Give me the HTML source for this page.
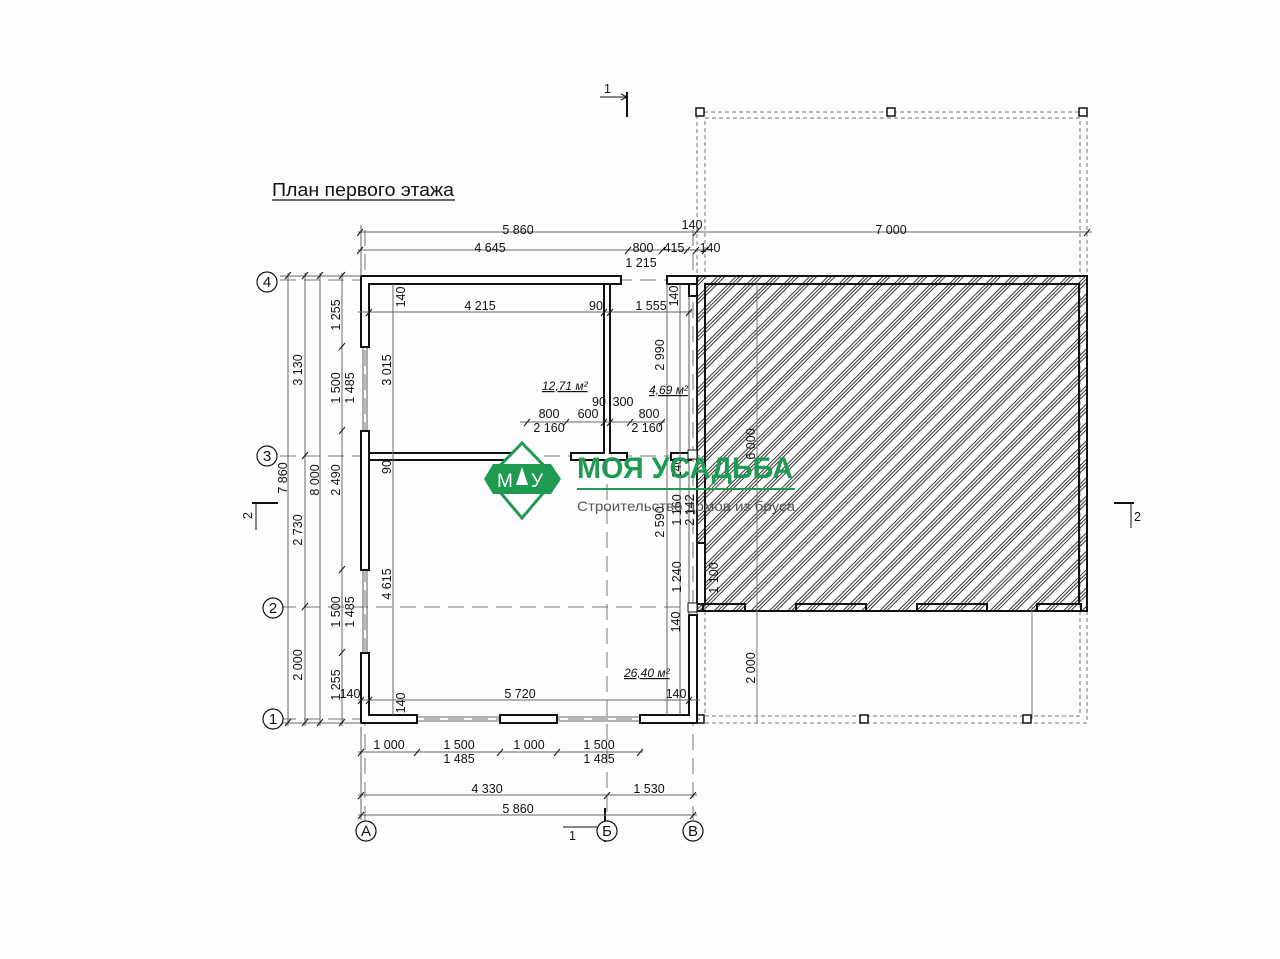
<!DOCTYPE html>
<html><head><meta charset="utf-8"><style>
html,body{margin:0;padding:0;background:#fdfdfd;}
svg{display:block;font-family:"Liberation Sans",sans-serif;}
.d{stroke:#666;stroke-width:1;fill:none}
.t{font-size:12.5px;fill:#111}
.w{fill:#fff;stroke:#111;stroke-width:2}
.ax{stroke:#777;stroke-width:1;stroke-dasharray:16 8;fill:none}
</style></head><body>
<svg width="1280" height="959" viewBox="0 0 1280 959" xmlns="http://www.w3.org/2000/svg">
<defs>
<pattern id="h" width="13" height="13" patternUnits="userSpaceOnUse" patternTransform="rotate(45)">
<line x1="1" y1="0" x2="1" y2="13" stroke="#222" stroke-width="0.9"/>
<line x1="3.5" y1="0" x2="3.5" y2="13" stroke="#222" stroke-width="0.9"/>
<line x1="6" y1="0" x2="6" y2="13" stroke="#222" stroke-width="0.9"/>
</pattern>
</defs>
<rect width="1280" height="959" fill="#fdfdfd"/>

<text x="272" y="196" font-size="18" fill="#111" textLength="182" lengthAdjust="spacingAndGlyphs">План первого этажа</text>
<line x1="272" y1="200" x2="455" y2="200" stroke="#111" stroke-width="1.2"/>

<line x1="627" y1="92" x2="627" y2="117" stroke="#111" stroke-width="2"/>
<line x1="600" y1="97" x2="627" y2="97" stroke="#111"/><path d="M621,94 L627,97 L621,100" fill="none" stroke="#111"/>
<text x="604" y="93" class="t">1</text>
<line x1="605" y1="808" x2="605" y2="842" stroke="#111" stroke-width="2"/>
<line x1="563" y1="827" x2="605" y2="827" stroke="#111"/><path d="M599,824 L605,827 L599,830" fill="none" stroke="#111"/>
<text x="569" y="840" class="t">1</text>
<line x1="252" y1="503" x2="278" y2="503" stroke="#111" stroke-width="2"/>
<line x1="256" y1="530" x2="256" y2="503" stroke="#111"/>
<text x="244" y="519" class="t" transform="rotate(-90 248 515)">2</text>
<line x1="1114" y1="503" x2="1134" y2="503" stroke="#111" stroke-width="2"/>
<line x1="1131" y1="503" x2="1131" y2="528" stroke="#111"/>
<text x="1134" y="521" class="t">2</text>

<rect x="697" y="112" width="390" height="611" fill="none" stroke="#777" stroke-dasharray="4 3"/>
<rect x="705" y="118" width="375" height="598" fill="none" stroke="#777" stroke-dasharray="4 3"/>

<rect x="697" y="276" width="390" height="335" fill="url(#h)" stroke="#111" stroke-width="2"/>
<path d="M705,604 V284 H1079 V604" fill="none" stroke="#111" stroke-width="2"/>
<g fill="none" stroke="#111" stroke-width="2">
<rect x="703" y="604" width="42" height="7"/><rect x="796" y="604" width="70" height="7"/><rect x="917" y="604" width="70" height="7"/><rect x="1037" y="604" width="44" height="7"/>
<rect x="697" y="543" width="8" height="61" fill="#fff"/>
</g>
<line x1="757" y1="284" x2="757" y2="723" stroke="#777"/>
<line x1="1032" y1="604" x2="1032" y2="719" stroke="#777"/>
<g fill="#fff" stroke="#111" stroke-width="1.5">
<rect x="696" y="108" width="8" height="8"/><rect x="887" y="108" width="8" height="8"/><rect x="1079" y="108" width="8" height="8"/>
<rect x="696" y="715" width="8" height="8"/><rect x="860" y="715" width="8" height="8"/><rect x="1023" y="715" width="8" height="8"/>
</g>

<line class="ax" x1="280" y1="280" x2="700" y2="280"/>
<line class="ax" x1="280" y1="456" x2="700" y2="456"/>
<line class="ax" x1="280" y1="607" x2="700" y2="607"/>
<line class="ax" x1="280" y1="719" x2="700" y2="719"/>
<line class="ax" x1="365" y1="230" x2="365" y2="820"/>
<line class="ax" x1="607" y1="460" x2="607" y2="820"/>
<line class="ax" x1="693" y1="230" x2="693" y2="820"/>

<path class="w" d="M361,276 H621 V284 H369 V347 H361 Z"/>
<rect class="w" x="667" y="276" width="30" height="8"/>
<rect class="w" x="361" y="431" width="8" height="139"/>
<path class="w" d="M361,653 H369 V715 H417 V723 H361 Z"/>
<rect class="w" x="500" y="715" width="57" height="8"/>
<path class="w" d="M640,715 H689 V615 H697 V723 H640 Z"/>
<rect class="w" x="369" y="453" width="157" height="7"/>
<path class="w" d="M604,284 H610 V453 H627 V460 H571 V453 H604 Z"/>
<rect class="w" x="671" y="453" width="20" height="7"/>
<rect class="w" x="689" y="284" width="8" height="12" stroke-width="1"/>
<g stroke="#333" stroke-width="0.8" fill="none">
<line x1="363" y1="347" x2="363" y2="431"/><line x1="367" y1="347" x2="367" y2="431"/>
<line x1="363" y1="570" x2="363" y2="653"/><line x1="367" y1="570" x2="367" y2="653"/>
<line x1="417" y1="717" x2="500" y2="717"/><line x1="417" y1="721" x2="500" y2="721"/>
<line x1="557" y1="717" x2="640" y2="717"/><line x1="557" y1="721" x2="640" y2="721"/>
<line x1="689" y1="296" x2="689" y2="615"/><line x1="697" y1="296" x2="697" y2="615"/>
</g>
<rect x="688" y="450" width="9" height="9" fill="#fff" stroke="#111"/>
<rect x="688" y="603" width="9" height="9" fill="#fff" stroke="#111"/>

<g class="d">
<line x1="358" y1="232" x2="1092" y2="232"/>
<line x1="358" y1="250" x2="712" y2="250"/>
<line x1="361" y1="225" x2="361" y2="276"/>
<line x1="358" y1="312" x2="692" y2="312"/>
<line x1="520" y1="422" x2="665" y2="422"/>
<line x1="358" y1="700" x2="700" y2="700"/>
<line x1="358" y1="752" x2="643" y2="752"/>
<line x1="358" y1="795" x2="697" y2="795"/>
<line x1="358" y1="815" x2="697" y2="815"/>
<line x1="361" y1="727" x2="361" y2="820"/>
<line x1="288" y1="273" x2="288" y2="726"/>
<line x1="305" y1="273" x2="305" y2="726"/>
<line x1="320" y1="273" x2="320" y2="726"/>
<line x1="342" y1="273" x2="342" y2="726"/>
<line x1="393" y1="284" x2="393" y2="715"/>
<line x1="667" y1="284" x2="667" y2="715"/>
<line x1="680" y1="284" x2="680" y2="715"/>
<line x1="280" y1="276" x2="361" y2="276"/>
<line x1="280" y1="723" x2="361" y2="723"/>
</g>
<g stroke="#111" stroke-width="1">
<path d="M357,236 l6,-7 M357,254 l6,-7 M625,254 l6,-7 M659,254 l6,-7 M684,254 l6,-7 M693,254 l6,-7 M693,236 l6,-7 M702,254 l6,-7 M1084,236 l6,-7"/>
<path d="M366,316 l6,-7 M601,316 l6,-7 M607,316 l6,-7 M686,316 l6,-7 M366,704 l6,-7 M686,704 l6,-7 M358,704 l6,-7"/>
<path d="M358,756 l6,-7 M414,756 l6,-7 M497,756 l6,-7 M554,756 l6,-7 M637,756 l6,-7"/>
<path d="M358,799 l6,-7 M604,799 l6,-7 M690,799 l6,-7 M358,819 l6,-7 M690,819 l6,-7"/>
<path d="M524,426 l6,-7 M563,426 l6,-7 M601,426 l6,-7 M607,426 l6,-7 M627,426 l6,-7 M659,426 l6,-7"/>
<path d="M285,279 l6,-7 M302,279 l6,-7 M317,279 l6,-7 M339,279 l6,-7 M302,459 l6,-7 M302,610 l6,-7 M285,726 l6,-7 M302,726 l6,-7 M317,726 l6,-7 M339,726 l6,-7 M339,350 l6,-7 M339,434 l6,-7 M339,573 l6,-7 M339,656 l6,-7"/>
</g>

<g fill="#fff" stroke="#111" stroke-width="1.2">
<circle cx="267" cy="282" r="10"/><circle cx="267" cy="456" r="10"/><circle cx="273" cy="608" r="10"/><circle cx="273" cy="719" r="10"/>
<circle cx="366" cy="831" r="10"/><circle cx="607" cy="831" r="10"/><circle cx="693" cy="831" r="10"/>
</g>
<g font-size="15" fill="#111" text-anchor="middle">
<text x="267" y="287">4</text><text x="267" y="461">3</text><text x="273" y="613">2</text><text x="273" y="724">1</text>
<text x="366" y="836">А</text><text x="607" y="836">Б</text><text x="693" y="836">В</text>
</g>

<g class="t" text-anchor="middle">
<text x="518" y="234">5 860</text><text x="891" y="234">7 000</text><text x="692" y="229">140</text>
<text x="490" y="252">4 645</text><text x="643" y="252">800</text><text x="674" y="252">415</text><text x="710" y="252">140</text>
<text x="641" y="267">1 215</text>
<text x="480" y="310">4 215</text><text x="596" y="310">90</text><text x="651" y="310">1 555</text>
<text x="549" y="418">800</text><text x="588" y="418">600</text><text x="599" y="406">90</text><text x="623" y="406">300</text><text x="649" y="418">800</text>
<text x="549" y="432">2 160</text><text x="647" y="432">2 160</text>
<text x="350" y="698">140</text><text x="520" y="698">5 720</text><text x="676" y="698">140</text>
<text x="389" y="749">1 000</text><text x="459" y="749">1 500</text><text x="529" y="749">1 000</text><text x="599" y="749">1 500</text>
<text x="459" y="763">1 485</text><text x="599" y="763">1 485</text>
<text x="487" y="793">4 330</text><text x="649" y="793">1 530</text><text x="518" y="813">5 860</text>
</g>
<g font-size="12" fill="#111" font-style="italic" text-decoration="underline">
<text x="542" y="390">12,71 м²</text><text x="649" y="394">4,69 м²</text><text x="624" y="677">26,40 м²</text>
</g>
<g class="t" text-anchor="middle">
<text transform="translate(287,478) rotate(-90)">7 860</text>
<text transform="translate(302,370) rotate(-90)">3 130</text>
<text transform="translate(302,530) rotate(-90)">2 730</text>
<text transform="translate(302,665) rotate(-90)">2 000</text>
<text transform="translate(319,480) rotate(-90)">8 000</text>
<text transform="translate(340,315) rotate(-90)">1 255</text>
<text transform="translate(340,388) rotate(-90)">1 500</text>
<text transform="translate(354,388) rotate(-90)">1 485</text>
<text transform="translate(340,480) rotate(-90)">2 490</text>
<text transform="translate(340,612) rotate(-90)">1 500</text>
<text transform="translate(354,612) rotate(-90)">1 485</text>
<text transform="translate(340,685) rotate(-90)">1 255</text>
<text transform="translate(405,297) rotate(-90)">140</text>
<text transform="translate(391,370) rotate(-90)">3 015</text>
<text transform="translate(391,467) rotate(-90)">90</text>
<text transform="translate(391,584) rotate(-90)">4 615</text>
<text transform="translate(405,703) rotate(-90)">140</text>
<text transform="translate(664,355) rotate(-90)">2 990</text>
<text transform="translate(678,296) rotate(-90)">140</text>
<text transform="translate(681,468) rotate(-90)">140</text>
<text transform="translate(681,510) rotate(-90)">1 160</text>
<text transform="translate(694,510) rotate(-90)">2 142</text>
<text transform="translate(664,522) rotate(-90)">2 590</text>
<text transform="translate(681,577) rotate(-90)">1 240</text>
<text transform="translate(718,578) rotate(-90)">1 100</text>
<text transform="translate(680,622) rotate(-90)">140</text>
<text transform="translate(755,444) rotate(-90)">6 000</text>
<text transform="translate(755,668) rotate(-90)">2 000</text>
</g>

<g>
<polygon points="522,443 556,478 522,518 488,478" fill="#fff" stroke="#1f9a52" stroke-width="3"/>
<polygon points="493,464 551,464 561,479 551,494 493,494 484,479" fill="#1f9a52"/>
<text x="497" y="487" font-size="19" fill="#fff">М</text>
<polygon points="522,467 516,485 528,485" fill="#fff"/>
<text x="531" y="487" font-size="19" fill="#fff">У</text>
<text x="577" y="478" font-size="30" font-weight="bold" fill="#1f9a52" textLength="216" lengthAdjust="spacingAndGlyphs">МОЯ УСАДЬБА</text>
<line x1="577" y1="489" x2="795" y2="489" stroke="#1f9a52" stroke-width="2"/>
<text x="577" y="511" font-size="14" fill="#555" textLength="218" lengthAdjust="spacingAndGlyphs">Строительство домов из бруса</text>
</g>
</svg>
</body></html>
